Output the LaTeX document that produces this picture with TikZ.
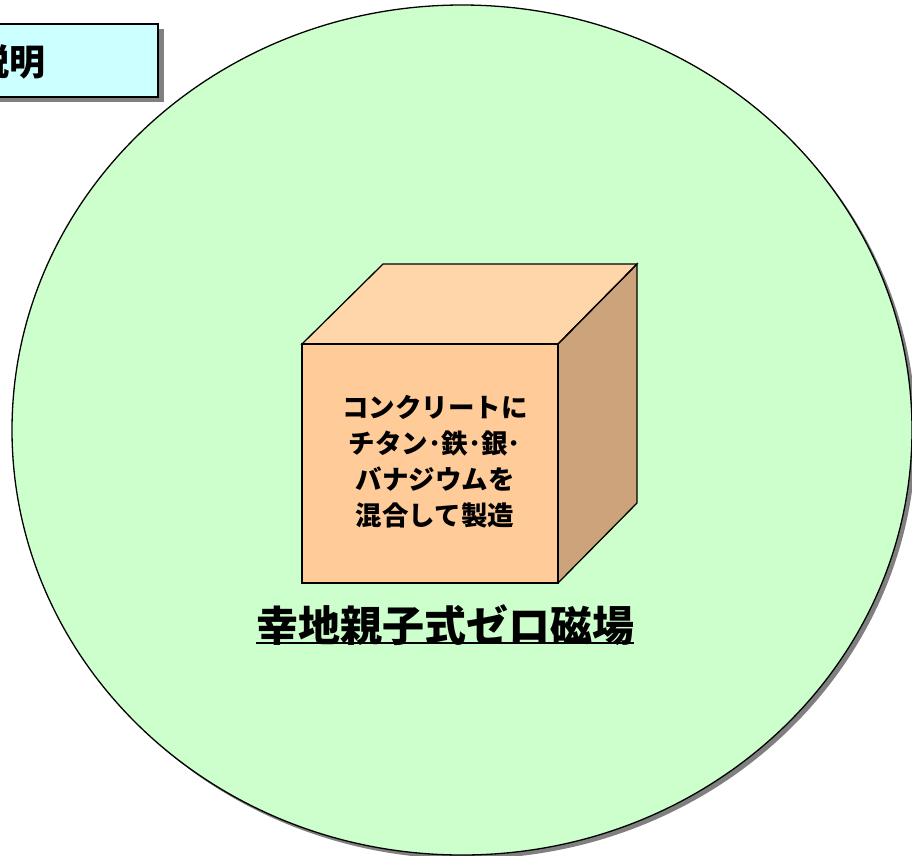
\documentclass[tikz,border=0pt]{standalone}
\usepackage{fontspec}
\newfontfamily\cjk{Noto Sans CJK JP}
\usetikzlibrary{shapes.geometric}
\definecolor{bggreen}{HTML}{CCFFCC}
\definecolor{boxcyan}{HTML}{CCFFFF}
\definecolor{cubefront}{HTML}{FFCC99}
\definecolor{cubetop}{HTML}{FFD6AA}
\definecolor{cubeside}{HTML}{CCA37A}
\definecolor{shadowgray}{HTML}{808080}
\tikzset{
  outline/.style={draw=black, line width=1.3pt, line join=miter},
  cubetext/.style={font=\cjk\bfseries\fontsize{26.5}{36}\selectfont, align=center, text=black},
}
\begin{document}
\begin{tikzpicture}[x=1pt,y=-1pt]
\useasboundingbox (0,0) rectangle (912,855);
% big ellipse with shadow
\fill[shadowgray] (466,434) ellipse [x radius=450, y radius=425];
\draw[outline, fill=bggreen] (462,430) ellipse [x radius=450, y radius=425];
% title box with shadow
\fill[shadowgray] (-20,29) rectangle (164,102);
\draw[outline, fill=boxcyan] (-20,24) rectangle (158,97);
\node[font=\cjk\bfseries\fontsize{36}{42}\selectfont, anchor=east, inner sep=0pt] (title) at (46,62) {説明};
% cube
\coordinate (fa) at (302,344);
\coordinate (fb) at (558,344);
\coordinate (fc) at (558,583);
\coordinate (fd) at (302,583);
\coordinate (ba) at (383,264);
\coordinate (bb) at (637,264);
\coordinate (bc) at (637,503);
\fill[cubetop] (fa) -- (ba) -- (bb) -- (fb) -- cycle;
\fill[cubeside] (fb) -- (bb) -- (bc) -- (fc) -- cycle;
\fill[cubefront] (fa) rectangle (fc);
\draw[outline] (fa) -- (ba) -- (bb) -- (fb) -- cycle;
\draw[outline] (fb) -- (bb) -- (bc) -- (fc);
\draw[outline] (fa) rectangle (fc);
\node[cubetext] (content) at (435,462) {コンクリートに\\チタン･鉄･銀･\\バナジウムを\\混合して製造};
% label
\node[font=\cjk\bfseries\fontsize{42}{48}\selectfont] (label) at (445,625) {幸地親子式ゼロ磁場};
\draw[line width=2pt] (256,643) -- (634,643);
\end{tikzpicture}
\end{document}
